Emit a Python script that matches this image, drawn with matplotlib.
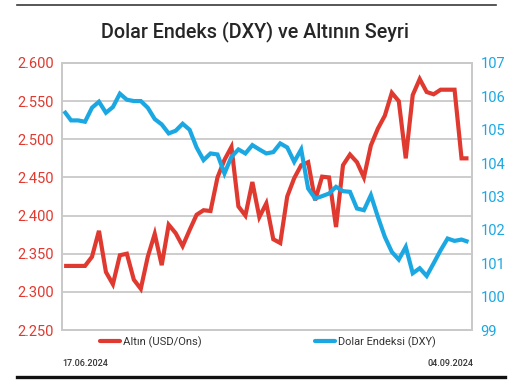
import matplotlib
matplotlib.use("Agg")
import matplotlib.pyplot as plt
from matplotlib.lines import Line2D
from matplotlib.ticker import FuncFormatter, FixedLocator
import numpy as np

# ---- data ----
start_label = "17.06.2024"
end_label = "04.09.2024"

gold = [2334, 2334, 2334, 2334, 2346, 2380, 2326, 2310, 2348, 2350, 2316, 2304, 2346, 2376, 2335,
        2388, 2377, 2360, 2381, 2401, 2407, 2406, 2450, 2473, 2490, 2412, 2400, 2444, 2398, 2416,
        2369, 2364, 2425, 2449, 2466, 2470, 2420, 2451, 2450, 2385, 2466, 2480, 2470, 2450,
        2492, 2514, 2531, 2561, 2550, 2475, 2558, 2579, 2562, 2559, 2565, 2565, 2565, 2475, 2475]

dxy = [105.56, 105.28, 105.28, 105.24, 105.66, 105.84, 105.51, 105.68, 106.08, 105.90, 105.86, 105.86, 105.66, 105.32, 105.16,
       104.89, 104.97, 105.18, 105.00, 104.47, 104.09, 104.29, 104.26, 103.69, 104.19, 104.41, 104.29, 104.54, 104.41, 104.29,
       104.33, 104.59, 104.47, 104.04, 104.41, 103.24, 102.94, 103.01, 103.09, 103.29, 103.16, 103.14, 102.64, 102.59,
       103.04, 102.39, 101.79, 101.34, 101.11, 101.49, 100.70, 100.85, 100.62, 101.00, 101.39, 101.74, 101.67, 101.71, 101.64]

gold_ticks = [2250, 2300, 2350, 2400, 2450, 2500, 2550, 2600]
dxy_ticks = [99, 100, 101, 102, 103, 104, 105, 106, 107]

title = "Dolar Endeks (DXY) ve Altının Seyri"
gold_name = "Altın (USD/Ons)"
dxy_name = "Dolar Endeksi (DXY)"

RED = "#e0392f"
BLUE = "#1ba8e2"
GRID = "#c9c9c9"
DARK = "#262626"

FONT = ["Roboto", "DejaVu Sans"]

W, H = 531, 390
fig = plt.figure(figsize=(W / 100, H / 100), dpi=100)
fig.patch.set_facecolor("white")
renderer = fig.canvas.get_renderer()


def fit(t, target_px):
    """scale a text's font size so that its rendered width matches target_px"""
    for _ in range(3):
        w = t.get_window_extent(renderer).width
        t.set_fontsize(t.get_fontsize() * target_px / w)
    return t


ax = fig.add_axes([62 / W, 1 - 330 / H, (472 - 62) / W, (330 - 63) / H])
ax2 = ax.twinx()

x = np.arange(len(gold))
ax.plot(x, gold, color=RED, lw=3.0, solid_joinstyle="miter", solid_capstyle="butt", zorder=3)
ax2.plot(x, dxy, color=BLUE, lw=3.0, solid_joinstyle="miter", solid_capstyle="butt", zorder=3)

ax.set_xlim(-0.3, len(gold) - 1 + 0.5)
ax.set_ylim(2250, 2600)
ax2.set_ylim(99, 107)

ax.yaxis.set_major_locator(FixedLocator(gold_ticks))
ax2.yaxis.set_major_locator(FixedLocator(dxy_ticks))
ax.yaxis.set_major_formatter(FuncFormatter(lambda v, p: f"{int(v):,}".replace(",", ".")))
ax2.yaxis.set_major_formatter(FuncFormatter(lambda v, p: f"{int(v)}"))

ax.set_xticks([])
ax.grid(axis="y", color=GRID, lw=1.3, zorder=0)
ax.set_axisbelow(True)

for a in (ax, ax2):
    for s in a.spines.values():
        s.set_color(GRID)
        s.set_linewidth(1.3)

ax.tick_params(axis="y", length=0, pad=6, labelsize=10.5, labelcolor=RED)
ax2.tick_params(axis="y", length=0, pad=6, labelsize=10.5, labelcolor=BLUE)
for lab in ax.get_yticklabels() + ax2.get_yticklabels():
    lab.set_family(FONT)

# title and rules
tt = fig.text(255 / W, 1 - 32 / H, title, ha="center", va="center", fontsize=15,
              color=DARK, family=FONT, weight="medium")
fit(tt, 310)
fig.add_artist(Line2D([17 / W, 496 / W], [1 - 5 / H, 1 - 5 / H], color="#3a3a3a", lw=1.2))
fig.add_artist(Line2D([17 / W, 505 / W], [1 - 377 / H, 1 - 377 / H], color="#111111", lw=2.4))

# legends
h1 = Line2D([], [], color=RED, lw=3.0, solid_capstyle="round")
h2 = Line2D([], [], color=BLUE, lw=3.0, solid_capstyle="round")
kw = dict(frameon=False, handlelength=1.6, handletextpad=0.25, borderpad=0, borderaxespad=0,
          prop={"family": FONT, "size": 9}, labelcolor="#333333")
leg1 = fig.legend(handles=[h1], labels=[gold_name], loc="center left",
                  bbox_to_anchor=(100 / W, 1 - 342 / H), **kw)
leg2 = fig.legend(handles=[h2], labels=[dxy_name], loc="center left",
                  bbox_to_anchor=(315 / W, 1 - 342 / H), **kw)
fit(leg1.get_texts()[0], 79)
fit(leg2.get_texts()[0], 98)

d1 = fig.text(62 / W, 1 - 363 / H, start_label, ha="left", va="center", fontsize=7.5,
              color="#333333", family=FONT, weight="medium")
d2 = fig.text(473 / W, 1 - 363 / H, end_label, ha="right", va="center", fontsize=7.5,
              color="#333333", family=FONT, weight="medium")
fit(d1, 46)
fit(d2, 46)

fig.savefig("out.png", dpi=100, facecolor="white")
